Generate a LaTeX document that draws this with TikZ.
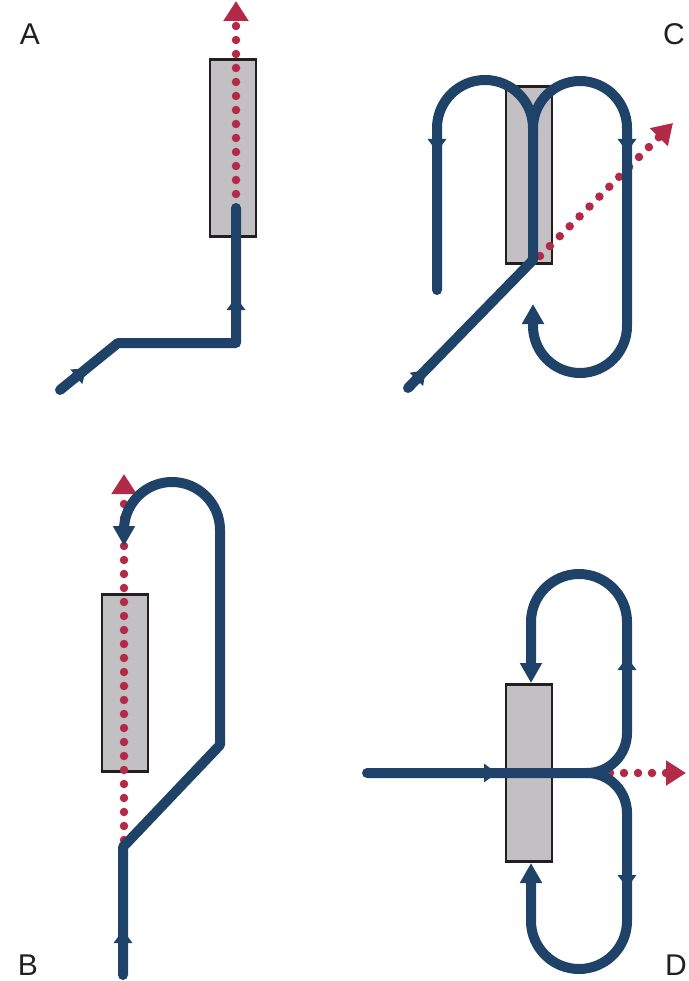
\documentclass[tikz,border=0pt]{standalone}
\usepackage{fontspec}
\setmainfont{Liberation Sans}
\usetikzlibrary{arrows.meta}
\definecolor{navy}{HTML}{1F4269}
\definecolor{wine}{HTML}{B32A48}
\definecolor{boxgray}{HTML}{C2C0C2}
\definecolor{ink}{HTML}{231F20}
\begin{document}
\begin{tikzpicture}[x=1pt,y=-1pt,
  flow/.style={draw=navy, line width=10pt, line cap=round, line join=round},
  endtip/.style={-{Triangle[width=21pt,length=20pt]}},
  beam/.style={draw=wine, line width=8.5pt, line cap=round, dash pattern=on 0pt off 14pt, -{Triangle[width=24pt,length=20pt,color=wine]}},
  sample/.style={draw=ink, fill=boxgray, line width=2.3pt, minimum width=46pt, minimum height=177pt, inner sep=0pt, outer sep=0pt},
  panel/.style={text=ink, font=\fontsize{30}{30}\selectfont, inner sep=0pt},
  midtip/.style={draw=navy, line width=10pt, -{Triangle[width=18pt,length=13pt]}}
]
\useasboundingbox (0,0) rectangle (688,981);

% labels
\node[panel] (la) at (30,34) {A};
\node[panel] (lc) at (674,34) {C};
\node[panel] (lb) at (28,965) {B};
\node[panel] (ld) at (676,965) {D};

% samples
\node[sample] (ra) at (233,148) {};
\node[sample] (rc) at (529,175) {};
\node[sample] (rb) at (125,683) {};
\node[sample] (rd) at (529,773) {};

% ---------- A ----------
\draw[beam] (236,208) -- (236,1);
\draw[flow] (60,390) -- (118,343) -- (236,343) -- (236,208);
\draw[midtip] (75.5,377.4) -- (86.4,368.6);
\draw[midtip] (236,311) -- (236,297);

% ---------- C ----------
\draw[beam] (540,256) -- (673,123);
\draw[flow] (408,388) -- (533,260) -- (533,128)
  arc[start angle=0, end angle=-180, radius=48] -- (437,290);
\draw[flow, endtip] (533,128) arc[start angle=180, end angle=360, radius=47]
  -- (627,326) arc[start angle=0, end angle=180, radius=47] -- (533,304);
\draw[midtip] (415.7,380.1) -- (425.5,370.1);
\draw[midtip] (437,138) -- (437,152);
\draw[midtip] (627,138) -- (627,152);

% ---------- B ----------
\draw[beam] (124,840) -- (124,474);
\draw[flow, endtip] (123,975) -- (123,847) -- (220,745) -- (220,530)
  arc[start angle=0, end angle=-180, radius=48] -- (124,546);
\draw[midtip] (123,944) -- (123,930);

% ---------- D ----------
\draw[beam] (610,773) -- (686,773);
\draw[flow, endtip] (367,773) -- (587,773)
  arc[start angle=90, end angle=0, radius=40] -- (627,622)
  arc[start angle=0, end angle=-180, radius=48] -- (531,683);
\draw[flow, endtip] (587,773)
  arc[start angle=-90, end angle=0, radius=40] -- (627,921)
  arc[start angle=0, end angle=180, radius=48] -- (531,863);
\draw[midtip] (483,773) -- (497,773);
\draw[midtip] (627,671) -- (627,657);
\draw[midtip] (627,874) -- (627,888);
\end{tikzpicture}
\end{document}
